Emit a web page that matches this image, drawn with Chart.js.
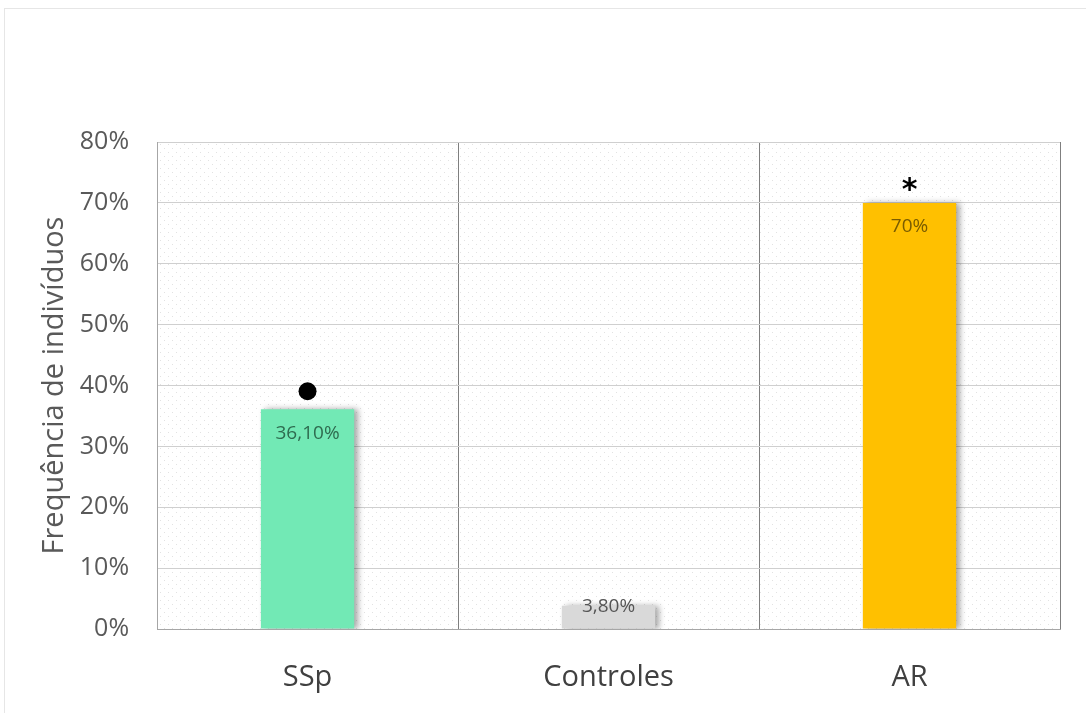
<!DOCTYPE html>
<html>
<head>
<meta charset="utf-8">
<script src="https://cdn.jsdelivr.net/npm/chart.js@4.4.1/dist/chart.umd.min.js"></script>
<style>
  html, body { margin: 0; padding: 0; background: #fff; }
  #wrap { position: absolute; left: 0; top: 0; width: 1086px; height: 713px; }
  #frame { position: absolute; left: 4px; top: 8px; right: -4px; bottom: -4px; border: 1px solid #e6e6e6; }
</style>
</head>
<body>
<div id="wrap">
  <div id="frame"></div>
  <canvas id="chart" width="1086" height="713"></canvas>
</div>
<script>
// Frequency of individuals per group
const groups = ["SSp", "Controles", "AR"];
const freqPct = [36.1, 3.8, 70];
const valueLabels = ["36,10%", "3,80%", "70%"];
const barColors = ["#72e9b5", "#d9d9d9", "#ffc000"];
const labelColors = ["#2e6b4f", "#555555", "#7a5c00"];
const markers = ["●", "", "*"];

const FONT = "'Open Sans', 'DejaVu Sans', sans-serif";

// light dotted background inside the plot area
function dotPattern(ctx) {
  const c = document.createElement("canvas");
  c.width = 8; c.height = 8;
  const p = c.getContext("2d");
  p.fillStyle = "#fff";
  p.fillRect(0, 0, 8, 8);
  p.fillStyle = "#e2e2e2";
  p.fillRect(0, 0, 1, 1);
  p.fillRect(4, 4, 1, 1);
  return ctx.createPattern(c, "repeat");
}

const plotBg = {
  id: "plotBg",
  beforeDraw(chart) {
    const { ctx, chartArea: a } = chart;
    ctx.save();
    ctx.fillStyle = dotPattern(ctx);
    ctx.fillRect(a.left, a.top, a.right - a.left, a.bottom - a.top);
    ctx.restore();
  },
};

// soft shadow on the right of each bar
const barShadow = {
  id: "barShadow",
  beforeDatasetDraw(chart) {
    const ctx = chart.ctx;
    ctx.save();
    ctx.shadowColor = "rgba(0,0,0,0.35)";
    ctx.shadowBlur = 6;
    ctx.shadowOffsetX = 4;
    ctx.shadowOffsetY = 0;
  },
  afterDatasetDraw(chart) {
    chart.ctx.restore();
  },
};

// value labels and significance markers
const annotations = {
  id: "annotations",
  afterDatasetsDraw(chart) {
    const ctx = chart.ctx;
    const meta = chart.getDatasetMeta(0);
    ctx.save();
    ctx.textAlign = "center";
    meta.data.forEach((bar, i) => {
      const small = freqPct[i] < 10;
      ctx.font = "19px " + FONT;
      ctx.fillStyle = labelColors[i];
      ctx.textBaseline = "middle";
      ctx.fillText(valueLabels[i], bar.x, small ? bar.y + 1 : bar.y + 24);
      if (markers[i] === "●") {
        ctx.fillStyle = "#000";
        ctx.beginPath();
        ctx.arc(bar.x, bar.y - 18, 9, 0, Math.PI * 2);
        ctx.fill();
      } else if (markers[i]) {
        ctx.fillStyle = "#000";
        ctx.font = "bold 30px 'DejaVu Sans', sans-serif";
        ctx.fillText(markers[i], bar.x, bar.y - 12);
      }
    });
    ctx.restore();
  },
};

new Chart(document.getElementById("chart"), {
  type: "bar",
  data: {
    labels: groups,
    datasets: [{
      data: freqPct,
      backgroundColor: barColors,
      borderWidth: 0,
      categoryPercentage: 1,
      barPercentage: 0.31,
    }],
  },
  options: {
    responsive: false,
    animation: false,
    layout: { padding: { top: 142, right: 26, bottom: -13, left: 37 } },
    plugins: { legend: { display: false }, tooltip: { enabled: false } },
    scales: {
      x: {
        grid: { offset: true, color: "#7f7f7f", lineWidth: 1, drawTicks: false },
        border: { color: "#a6a6a6" },
        ticks: {
          color: "#404040",
          padding: 34,
          font: { family: FONT, size: 29, lineHeight: 1 },
        },
      },
      y: {
        min: 0,
        max: 80,
        grid: { color: "#cfcfcf", drawTicks: false },
        border: { color: "#a6a6a6" },
        ticks: {
          stepSize: 10,
          color: "#595959",
          padding: 28,
          font: { family: FONT, size: 25 },
          callback: (v) => v + "%",
        },
        title: {
          display: true,
          text: "Frequência de indivíduos",
          color: "#595959",
          padding: { top: 0, bottom: -20 },
          font: { family: FONT, size: 29 },
        },
      },
    },
  },
  plugins: [plotBg, barShadow, annotations],
});
</script>
</body>
</html>
